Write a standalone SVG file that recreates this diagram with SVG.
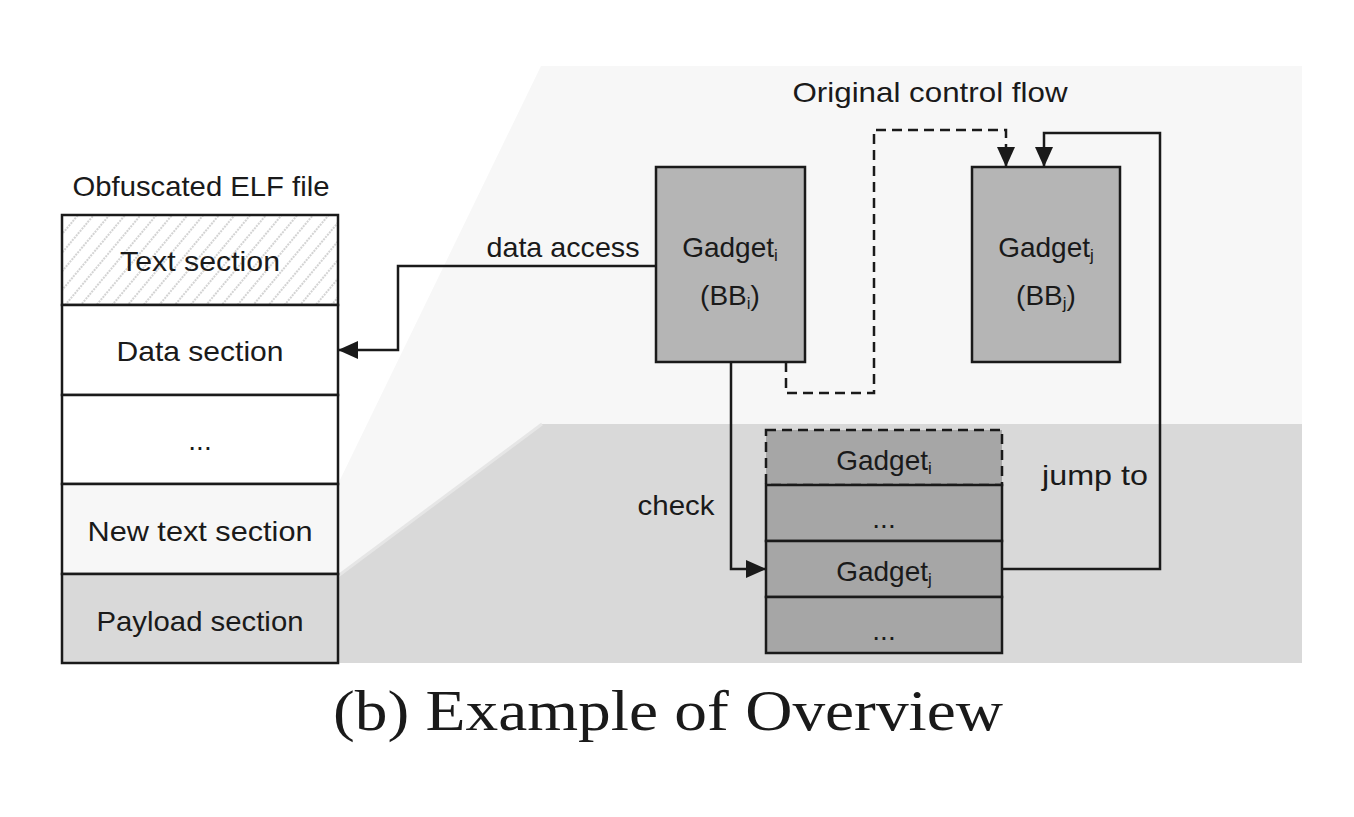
<svg xmlns="http://www.w3.org/2000/svg" width="1354" height="817" viewBox="0 0 1354 817">
<style>
.lbl{font-family:"Liberation Sans",Arial,sans-serif;font-size:28px;fill:#1a1a1a}
.sub{font-size:17px}
.box{stroke:#1a1a1a;stroke-width:2.5}
.ln{fill:none;stroke:#1a1a1a;stroke-width:2.5}
.dash{stroke-dasharray:10,6}
</style>
<defs>
<pattern id="hatch" patternUnits="userSpaceOnUse" width="12" height="12" patternTransform="rotate(-50)">
<rect width="12" height="12" fill="#ffffff"/>
<line x1="0" y1="6" x2="12" y2="6" stroke="#a8a8a8" stroke-width="1.2" stroke-dasharray="2,1"/>
</pattern>
<marker id="arr" viewBox="0 0 20 18" refX="20" refY="9" markerWidth="20" markerHeight="18" markerUnits="userSpaceOnUse" orient="auto">
<path d="M0,0 L20,9 L0,18 Z" fill="#1a1a1a"/>
</marker>
</defs>
<rect width="1354" height="817" fill="#ffffff"/>
<g id="background">
<polygon points="338,484 541,66 1302,66 1302,663 338,663" fill="#f7f7f7"/>
<polygon points="338,576 542,424 1302,424 1302,663 338,663" fill="#d9d9d9"/>
<polyline points="338,576 542,424" fill="none" stroke="#e6e6e6" stroke-width="3"/>
</g>
<g id="elf">
<text class="lbl" x="201" y="196" text-anchor="middle" textLength="257" lengthAdjust="spacingAndGlyphs">Obfuscated ELF file</text>
<rect class="box" x="62" y="215" width="276" height="90" fill="url(#hatch)"/>
<rect class="box" x="62" y="305" width="276" height="90" fill="#ffffff"/>
<rect class="box" x="62" y="395" width="276" height="89" fill="#ffffff"/>
<rect class="box" x="62" y="484" width="276" height="90" fill="#f7f7f7"/>
<rect class="box" x="62" y="574" width="276" height="89" fill="#d9d9d9"/>
<text class="lbl" x="200" y="271" text-anchor="middle" textLength="160" lengthAdjust="spacingAndGlyphs">Text section</text>
<text class="lbl" x="200" y="361" text-anchor="middle" textLength="167" lengthAdjust="spacingAndGlyphs">Data section</text>
<text class="lbl" x="200" y="450" text-anchor="middle" font-size="20">...</text>
<text class="lbl" x="200" y="541" text-anchor="middle" textLength="225" lengthAdjust="spacingAndGlyphs">New text section</text>
<text class="lbl" x="200" y="631" text-anchor="middle" textLength="207" lengthAdjust="spacingAndGlyphs">Payload section</text>
</g>
<g id="gadget-i">
<rect class="box" x="656" y="167" width="149" height="195" fill="#b5b5b5"/>
<text class="lbl" x="730" y="257" text-anchor="middle">Gadget<tspan class="sub" dy="4">i</tspan></text>
<text class="lbl" x="730" y="305" text-anchor="middle">(BB<tspan class="sub" dy="4">i</tspan><tspan dy="-4">)</tspan></text>
</g>
<g id="gadget-j">
<rect class="box" x="972" y="167" width="148" height="195" fill="#b5b5b5"/>
<text class="lbl" x="1046" y="257" text-anchor="middle">Gadget<tspan class="sub" dy="4">j</tspan></text>
<text class="lbl" x="1046" y="305" text-anchor="middle">(BB<tspan class="sub" dy="4">j</tspan><tspan dy="-4">)</tspan></text>
</g>
<g id="stack">
<rect class="box dash" x="766" y="430" width="236" height="55" fill="#a6a6a6"/>
<rect class="box" x="766" y="485" width="236" height="56" fill="#a6a6a6"/>
<rect class="box" x="766" y="541" width="236" height="56" fill="#a6a6a6"/>
<rect class="box" x="766" y="597" width="236" height="56" fill="#a6a6a6"/>
<text class="lbl" x="884" y="470" text-anchor="middle">Gadget<tspan class="sub" dy="4">i</tspan></text>
<text class="lbl" x="884" y="528" text-anchor="middle" font-size="20">...</text>
<text class="lbl" x="884" y="581" text-anchor="middle">Gadget<tspan class="sub" dy="4">j</tspan></text>
<text class="lbl" x="884" y="640" text-anchor="middle" font-size="20">...</text>
</g>
<g id="connectors">
<polyline class="ln" points="656,266 398,266 398,350 338,350" marker-end="url(#arr)"/>
<polyline class="ln dash" points="786,362 786,393 874,393 874,130 1006,130 1006,167" marker-end="url(#arr)"/>
<polyline class="ln" points="1002,569 1160,569 1160,133 1044,133 1044,167" marker-end="url(#arr)"/>
<polyline class="ln" points="731,362 731,569 766,569" marker-end="url(#arr)"/>
<text class="lbl" x="563" y="257" text-anchor="middle" textLength="153" lengthAdjust="spacingAndGlyphs">data access</text>
<text class="lbl" x="930" y="102" text-anchor="middle" textLength="275" lengthAdjust="spacingAndGlyphs">Original control flow</text>
<text class="lbl" x="676" y="515" text-anchor="middle" textLength="77" lengthAdjust="spacingAndGlyphs">check</text>
<text class="lbl" x="1095" y="485" text-anchor="middle" textLength="106" lengthAdjust="spacingAndGlyphs">jump to</text>
</g>
<text x="668" y="730" text-anchor="middle" font-family="'Liberation Serif','Times New Roman',serif" font-size="56" fill="#1a1a1a" textLength="670" lengthAdjust="spacingAndGlyphs">(b) Example of Overview</text>
</svg>
